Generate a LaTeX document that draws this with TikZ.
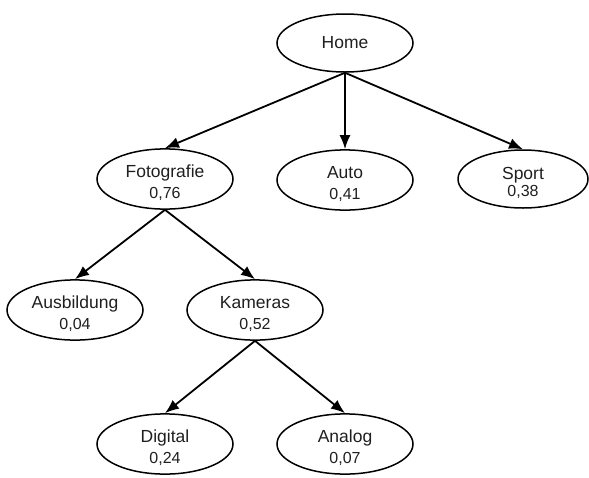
\documentclass[tikz,border=0pt]{standalone}
\usepackage{fontspec}
\setmainfont{Liberation Sans}
\usetikzlibrary{shapes.geometric,arrows.meta}
\tikzset{
  topic/.style={ellipse, draw, line width=1.5pt, minimum width=136pt, minimum height=60pt, inner sep=0pt, align=center, text=black!88, font=\fontsize{17.5}{20.5}\selectfont},
  edge/.style={line width=1.8pt, -{Latex[length=14pt,width=11pt]}},
}
\newcommand{\vl}[1]{{\fontsize{16}{20.5}\selectfont #1}}
\newcommand{\up}{\rule{0pt}{20pt}}
\begin{document}
\begin{tikzpicture}[x=1pt,y=-1pt]
\useasboundingbox (0,0) rectangle (589,477);
\node[topic, minimum height=58pt] (home) at (345,43) {Home};
\node[topic] (foto) at (165,179) {\up Fotografie\\\vl{0,76}};
\node[topic] (auto) at (345,180) {\up Auto\\\vl{0,41}};
\node[topic, minimum width=130pt, minimum height=58pt] (sport) at (523,179) {\up Sport\\[-4pt]\vl{0,38}};
\node[topic] (ausb) at (75,310) {\up Ausbildung\\\vl{0,04}};
\node[topic] (kam) at (255,310) {\up Kameras\\\vl{0,52}};
\node[topic] (dig) at (165,444) {\up Digital\\\vl{0,24}};
\node[topic] (ana) at (345,444) {\up Analog\\\vl{0,07}};
\draw[edge] (home.south) -- (foto.north);
\draw[edge] (home.south) -- (auto.north);
\draw[edge] (home.south) -- (sport.north);
\draw[edge] (foto.south) -- (ausb.north);
\draw[edge] (foto.south) -- (kam.north);
\draw[edge] (kam.south) -- (dig.north);
\draw[edge] (kam.south) -- (ana.north);
\end{tikzpicture}
\end{document}
